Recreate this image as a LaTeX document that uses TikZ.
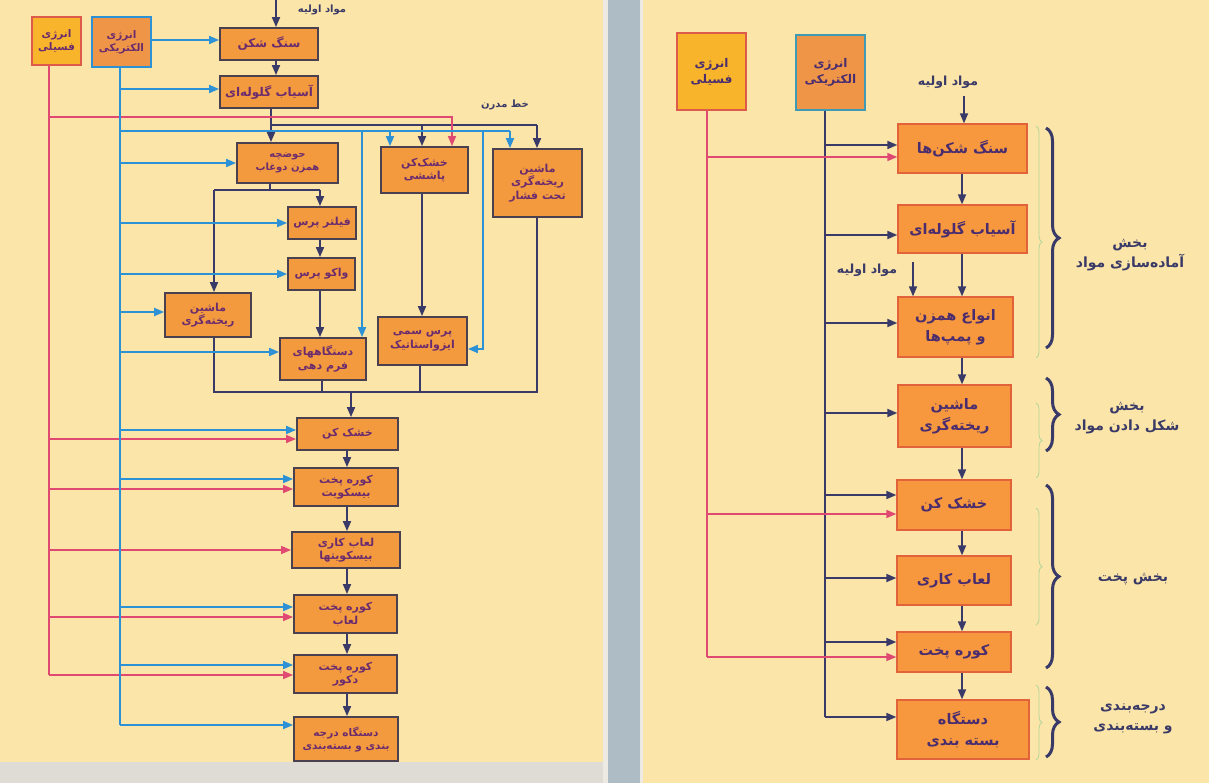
\documentclass[tikz,border=0pt]{standalone}
\usepackage{fontspec}
\usetikzlibrary{arrows.meta,decorations.pathreplacing,calc}
\TeXXeTstate=1
\newfontfamily\arabicfont[Script=Arabic]{DejaVu Sans}
\newcommand\fa[1]{\beginR #1\endR}
\definecolor{cream}{HTML}{FCE5A8}
\definecolor{graylight}{HTML}{DEDCD4}
\definecolor{stripwhite}{HTML}{ECEAE2}
\definecolor{stripblue}{HTML}{AEBCC6}
\definecolor{orng}{HTML}{F39A3F}
\definecolor{rorng}{HTML}{F7983E}
\definecolor{lborder}{HTML}{4A4050}
\definecolor{rborder}{HTML}{E2633B}
\definecolor{eblue}{HTML}{2C91D5}
\definecolor{pinkl}{HTML}{E04A72}
\definecolor{navy}{HTML}{3A3A68}
\definecolor{ltext}{HTML}{6B2C6E}
\definecolor{rtext}{HTML}{4A2D6E}
\definecolor{fosfill}{HTML}{F8B52B}
\definecolor{fosborder}{HTML}{DE5A4A}
\definecolor{elefill}{HTML}{EF9548}
\definecolor{reborder}{HTML}{3F9BB5}
\definecolor{gbrace}{HTML}{B5D69A}
\begin{document}
\begin{tikzpicture}[x=1pt,y=-1pt,
  lbox/.style={draw=lborder, line width=1.8pt, fill=orng, inner sep=1pt, align=center, text=ltext,
    font=\arabicfont\bfseries\fontsize{11}{13.5}\selectfont},
  lbig/.style={lbox, font=\arabicfont\bfseries\fontsize{12}{14}\selectfont},
  rbox/.style={draw=rborder, line width=1.3pt, fill=rorng, inner sep=1pt, align=center, text=rtext,
    font=\arabicfont\bfseries\fontsize{14.5}{21}\selectfont},
  lab/.style={text=navy, align=center, font=\arabicfont\bfseries\fontsize{10}{12}\selectfont},
  rlab/.style={text=navy, align=center, font=\arabicfont\bfseries\fontsize{14}{20}\selectfont},
  bl/.style={draw=eblue, line width=1.8pt},
  ba/.style={bl, -{Triangle[length=10pt,width=8pt]}},
  pk/.style={draw=pinkl, line width=1.6pt},
  pa/.style={pk, -{Triangle[length=10pt,width=8pt]}},
  dk/.style={draw=navy, line width=1.8pt},
  da/.style={dk, -{Triangle[length=10pt,width=8pt]}},
  rdk/.style={draw=navy, line width=1.7pt},
  rda/.style={rdk, -{Triangle[length=10pt,width=8pt]}},
  rpk/.style={draw=pinkl, line width=1.5pt},
  rpa/.style={rpk, -{Triangle[length=10pt,width=8pt]}},
  brc/.style={draw=navy, line width=3pt, decorate, decoration={brace, amplitude=13pt}},
  gbrc/.style={draw=gbrace, line width=0.8pt, decorate, decoration={brace, amplitude=6pt}}
]
\useasboundingbox (0,0) rectangle (1209,783);
% backgrounds
\fill[cream] (0,0) rectangle (603,762);
\fill[graylight] (0,762) rectangle (603,783);
\fill[stripwhite] (603,0) rectangle (643,783);
\fill[stripblue] (608,0) rectangle (640,783);
\fill[cream] (643,0) rectangle (1209,783);

% ================= LEFT DIAGRAM =================
\node[lbox, font=\arabicfont\bfseries\fontsize{10.5}{13}\selectfont, fill=fosfill, draw=fosborder, minimum width=49pt, minimum height=48pt] (lfos) at (56.5,41) {\fa{انرژی}\\\fa{فسیلی}};
\node[lbox, font=\arabicfont\bfseries\fontsize{10.5}{13}\selectfont, fill=elefill, draw=eblue, minimum width=59pt, minimum height=50pt] (lele) at (121.5,42) {\fa{انرژی}\\\fa{الکتریکی}};
\node[lbig, minimum width=98pt, minimum height=32pt] (lcrush) at (269,44) {\fa{سنگ شکن}};
\node[lbig, minimum width=98pt, minimum height=32pt] (lmill) at (269,92) {\fa{آسیاب گلوله‌ای}};
\node[lbox, font=\arabicfont\bfseries\fontsize{10}{13}\selectfont, minimum width=101pt, minimum height=40pt] (lpond) at (287.5,163) {\fa{حوضچه}\\\fa{همزن دوغاب}};
\node[lbox, minimum width=87pt, minimum height=46pt] (lspray) at (424.5,170) {\fa{خشک‌کن}\\\fa{پاششی}};
\node[lbox, minimum width=89pt, minimum height=68pt] (lpress) at (537.5,183) {\fa{ماشین}\\\fa{ریخته‌گری}\\\fa{تحت فشار}};
\node[lbox, minimum width=68pt, minimum height=32pt] (lfilt) at (322,223) {\fa{فیلتر پرس}};
\node[lbox, minimum width=67pt, minimum height=32pt] (lvac) at (321.5,274) {\fa{واکو پرس}};
\node[lbox, minimum width=86pt, minimum height=44pt] (lcast) at (208,315) {\fa{ماشین}\\\fa{ریخته‌گری}};
\node[lbox, minimum width=86pt, minimum height=42pt] (lform) at (323,359) {\fa{دستگاههای}\\\fa{فرم دهی}};
\node[lbox, minimum width=89pt, minimum height=48pt] (liso) at (422.5,341) {\fa{پرس سمی}\\\fa{ایزواستاتیک}};
\node[lbox, minimum width=101pt, minimum height=32pt] (ldry) at (347.5,434) {\fa{خشک کن}};
\node[lbox, minimum width=104pt, minimum height=38pt] (lbis) at (346,487) {\fa{کوره پخت}\\\fa{بیسکویت}};
\node[lbox, minimum width=108pt, minimum height=36pt] (lglz) at (346,550) {\fa{لعاب کاری}\\\fa{بیسکویتها}};
\node[lbox, minimum width=103pt, minimum height=38pt] (lkglz) at (345.5,614) {\fa{کوره پخت}\\\fa{لعاب}};
\node[lbox, minimum width=103pt, minimum height=38pt] (ldec) at (345.5,674) {\fa{کوره پخت}\\\fa{دکور}};
\node[lbox, font=\arabicfont\bfseries\fontsize{10.5}{13}\selectfont, minimum width=104pt, minimum height=44pt] (lpack) at (346,739) {\fa{دستگاه درجه}\\\fa{بندی و بسته‌بندی}};

\node[lab] (lraw) at (322,10) {\fa{مواد اولیه}};
\node[lab] (lmodern) at (505,105) {\fa{خط مدرن}};

% top raw material arrow
\coordinate (ltop) at (276,0);
\draw[da] (ltop) -- (ltop |- lcrush.north);
\draw[da] (lcrush.south -| ltop) -- (lmill.north -| ltop);

% dark distribution after ball mill
\coordinate (dA) at (271,125);
\coordinate (dB) at (422,125);
\coordinate (dC) at (537,125);
\draw[dk] (dA |- lmill.south) -- (dA) -- (dC);
\draw[da] (dA) -- (dA |- lpond.north);
\draw[da] (dB) -- (dB |- lspray.north);
\draw[da] (dC) -- (dC |- lpress.north);

% after slip tank
\coordinate (dP) at (270,190);
\coordinate (dD) at (214,190);
\coordinate (dE) at (320,190);
\draw[dk] (dP |- lpond.south) -- (dP);
\draw[dk] (dD) -- (dE);
\draw[da] (dD) -- (dD |- lcast.north);
\draw[da] (dE) -- (dE |- lfilt.north);
\draw[da] (lfilt.south -| dE) -- (lvac.north -| dE);
\draw[da] (lvac.south -| dE) -- (lform.north -| dE);
\draw[da] (lspray.south -| dB) -- (liso.north -| dB);

% collector
\coordinate (cA) at (214,392);
\coordinate (cB) at (322,392);
\coordinate (cC) at (420,392);
\coordinate (cD) at (537,392);
\coordinate (cM) at (351,392);
\draw[dk] (cA |- lcast.south) -- (cA) -- (cD) -- (cD |- lpress.south);
\draw[dk] (cB |- lform.south) -- (cB);
\draw[dk] (cC |- liso.south) -- (cC);
\draw[da] (cM) -- (cM |- ldry.north);

% lower chain
\coordinate (lX) at (347,0);
\draw[da] (ldry.south -| lX) -- (lbis.north -| lX);
\draw[da] (lbis.south -| lX) -- (lglz.north -| lX);
\draw[da] (lglz.south -| lX) -- (lkglz.north -| lX);
\draw[da] (lkglz.south -| lX) -- (ldec.north -| lX);
\draw[da] (ldec.south -| lX) -- (lpack.north -| lX);

% pink (fossil) lines
\coordinate (fBot) at (49,675);
\coordinate (pA) at (49,117);
\coordinate (pB) at (452,117);
\draw[pk] (lfos.south -| fBot) -- (fBot);
\draw[pa] (pA) -- (pB) -- (pB |- lspray.north);
\draw[pa] ([yshift=-5pt]ldry.west -| fBot) -- ([yshift=-5pt]ldry.west);
\draw[pa] ([yshift=-2pt]lbis.west -| fBot) -- ([yshift=-2pt]lbis.west);
\draw[pa] (lglz.west -| fBot) -- (lglz.west);
\draw[pa] ([yshift=-3pt]lkglz.west -| fBot) -- ([yshift=-3pt]lkglz.west);
\draw[pa] (fBot) -- (fBot -| ldec.west);

% blue (electric) lines
\coordinate (eBot) at (120,725);
\draw[bl] (lele.south -| eBot) -- (eBot);
\draw[ba] ([yshift=2pt]lele.east) -- ([yshift=2pt]lele.east -| lcrush.west);
\draw[ba] ([yshift=3pt]lmill.west -| eBot) -- ([yshift=3pt]lmill.west);
\draw[ba] (lpond.west -| eBot) -- (lpond.west);
\draw[ba] (lfilt.west -| eBot) -- (lfilt.west);
\draw[ba] (lvac.west -| eBot) -- (lvac.west);
\draw[ba] ([yshift=3pt]lcast.west -| eBot) -- ([yshift=3pt]lcast.west);
\draw[ba] ([yshift=7pt]lform.west -| eBot) -- ([yshift=7pt]lform.west);
\draw[ba] ([yshift=4pt]ldry.west -| eBot) -- ([yshift=4pt]ldry.west);
\draw[ba] ([yshift=8pt]lbis.west -| eBot) -- ([yshift=8pt]lbis.west);
\draw[ba] ([yshift=7pt]lkglz.west -| eBot) -- ([yshift=7pt]lkglz.west);
\draw[ba] ([yshift=9pt]ldec.west -| eBot) -- ([yshift=9pt]ldec.west);
\draw[ba] (eBot) -- (eBot -| lpack.west);
\coordinate (bA) at (120,131);
\coordinate (bB) at (362,131);
\coordinate (bC) at (390,131);
\coordinate (bD) at (483,131);
\coordinate (bE) at (510,131);
\draw[bl] (bA) -- (bE);
\draw[ba] (bC) -- (bC |- lspray.north);
\draw[ba] (bE) -- (bE |- lpress.north);
\draw[ba] (bB) -- (bB |- lform.north);
\draw[ba] (bD) |- ([yshift=-8pt]liso.east);

% ================= RIGHT DIAGRAM =================
\node[rbox, fill=fosfill, draw=fosborder, font=\arabicfont\bfseries\fontsize{12}{16}\selectfont, minimum width=69pt, minimum height=77pt] (rfos) at (711.5,71.5) {\fa{انرژی}\\\fa{فسیلی}};
\node[rbox, fill=elefill, draw=reborder, font=\arabicfont\bfseries\fontsize{12}{16}\selectfont, minimum width=69pt, minimum height=75pt] (rele) at (830.5,72.5) {\fa{انرژی}\\\fa{الکتریکی}};
\node[rbox, minimum width=129pt, minimum height=49pt] (rcrush) at (962.5,148.5) {\fa{سنگ شکن‌ها}};
\node[rbox, minimum width=129pt, minimum height=48pt] (rmill) at (962.5,229) {\fa{آسیاب گلوله‌ای}};
\node[rbox, minimum width=115pt, minimum height=60pt] (rmix) at (955.5,327) {\fa{انواع همزن}\\\fa{و پمپ‌ها}};
\node[rbox, minimum width=113pt, minimum height=62pt] (rcast) at (954.5,416) {\fa{ماشین}\\\fa{ریخته‌گری}};
\node[rbox, minimum width=114pt, minimum height=50pt] (rdry) at (954,505) {\fa{خشک کن}};
\node[rbox, minimum width=114pt, minimum height=49pt] (rglz) at (954,580.5) {\fa{لعاب کاری}};
\node[rbox, minimum width=114pt, minimum height=40pt] (rkiln) at (954,652) {\fa{کوره پخت}};
\node[rbox, minimum width=132pt, minimum height=59pt] (rpack) at (963,729.5) {\fa{دستگاه}\\\fa{بسته بندی}};

\node[rlab, font=\arabicfont\bfseries\fontsize{12.5}{14}\selectfont] (rraw1) at (948,82) {\fa{مواد اولیه}};
\node[rlab, font=\arabicfont\bfseries\fontsize{12.5}{14}\selectfont] (rraw2) at (867,270) {\fa{مواد اولیه}};

\coordinate (rTop) at (964,96);
\coordinate (rTop2) at (913,262);
\draw[rda] (rTop) -- (rTop |- rcrush.north);
\draw[rda] (rTop2) -- (rTop2 |- rmix.north);

% chain
\coordinate (rX) at (962,0);
\draw[rda] (rcrush.south -| rX) -- (rmill.north -| rX);
\draw[rda] (rmill.south -| rX) -- (rmix.north -| rX);
\draw[rda] (rmix.south -| rX) -- (rcast.north -| rX);
\draw[rda] (rcast.south -| rX) -- (rdry.north -| rX);
\draw[rda] (rdry.south -| rX) -- (rglz.north -| rX);
\draw[rda] (rglz.south -| rX) -- (rkiln.north -| rX);
\draw[rda] (rkiln.south -| rX) -- (rpack.north -| rX);

% electric (dark) lines
\coordinate (rE) at (825,717);
\draw[rdk] (rele.south -| rE) -- (rE);
\draw[rda] ([yshift=3.5pt]rcrush.west -| rE) -- ([yshift=3.5pt]rcrush.west);
\draw[rda] ([yshift=-6pt]rmill.west -| rE) -- ([yshift=-6pt]rmill.west);
\draw[rda] ([yshift=4pt]rmix.west -| rE) -- ([yshift=4pt]rmix.west);
\draw[rda] ([yshift=3pt]rcast.west -| rE) -- ([yshift=3pt]rcast.west);
\draw[rda] ([yshift=10pt]rdry.west -| rE) -- ([yshift=10pt]rdry.west);
\draw[rda] ([yshift=2.5pt]rglz.west -| rE) -- ([yshift=2.5pt]rglz.west);
\draw[rda] ([yshift=10pt]rkiln.west -| rE) -- ([yshift=10pt]rkiln.west);
\draw[rda] (rE) -- (rE -| rpack.west);

% fossil (pink) lines
\coordinate (rF) at (707,657);
\draw[rpk] (rfos.south -| rF) -- (rF);
\draw[rpa] ([yshift=-8.5pt]rcrush.west -| rF) -- ([yshift=-8.5pt]rcrush.west);
\draw[rpa] ([yshift=-9pt]rdry.west -| rF) -- ([yshift=-9pt]rdry.west);
\draw[rpa] (rF) -- (rF -| rkiln.west);

% braces
\draw[gbrc] (1036,126) -- (1036,358);
\draw[gbrc] (1036,403) -- (1036,478);
\draw[gbrc] (1036,508) -- (1036,625);
\draw[gbrc] (1036,685) -- (1036,760);
\draw[brc] (1046,128) -- (1046,348);
\draw[brc] (1046,378) -- (1046,451);
\draw[brc] (1046,485) -- (1046,668);
\draw[brc] (1046,687) -- (1046,757);

\node[rlab] (g1) at (1130,255) {\fa{بخش}\\\fa{آماده‌سازی مواد}};
\node[rlab] (g2) at (1127,418) {\fa{بخش}\\\fa{شکل دادن مواد}};
\node[rlab] (g3) at (1133,579) {\fa{بخش پخت}};
\node[rlab] (g4) at (1133,719) {\fa{درجه‌بندی}\\\fa{و بسته‌بندی}};
\end{tikzpicture}
\end{document}
